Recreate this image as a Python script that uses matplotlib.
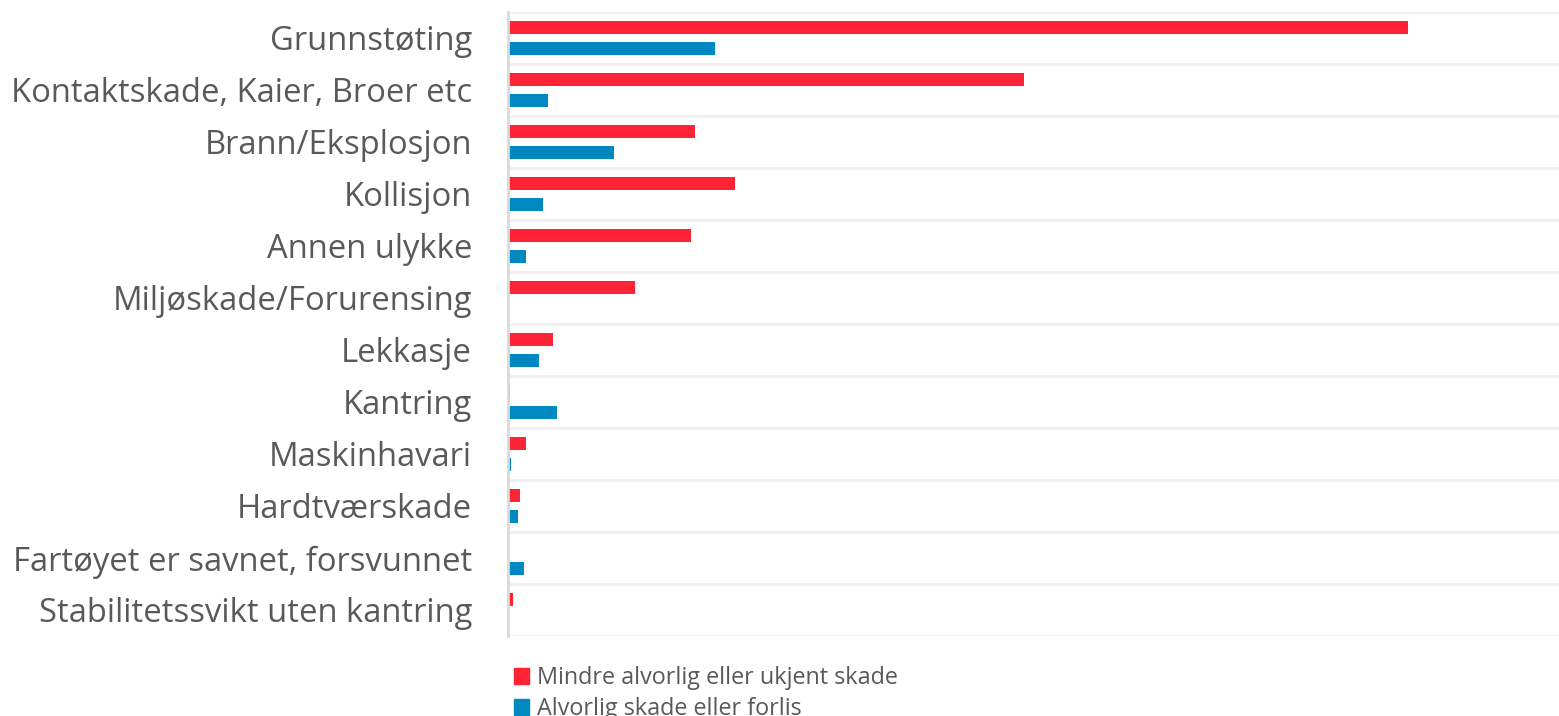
import numpy as np
import matplotlib.pyplot as plt
from matplotlib.patches import Patch

# 数据
categories = ["Grunnstøting", "Kontaktskade, Kaier, Broer etc", "Brann/Eksplosjon",
              "Kollisjon", "Annen ulykke", "Miljøskade/Forurensing", "Lekkasje",
              "Kantring", "Maskinhavari", "Hardtværskade",
              "Fartøyet er savnet, forsvunnet", "Stabilitetssvikt uten kantring"]
mindre = [900, 516, 187, 227, 183, 127, 45, 2, 18, 12, 1, 5]
alvorlig = [207, 40, 106, 35, 18, 0, 31, 49, 3, 10, 16, 1]
legend_labels = ["Mindre alvorlig eller ukjent skade", "Alvorlig skade eller forlis"]

red = '#ff2435'
blue = '#0088c0'
text_color = '#595959'

plt.rcParams['font.family'] = ['Open Sans', 'DejaVu Sans']

fig = plt.figure(figsize=(15.59, 7.16), dpi=100)
ax = fig.add_axes([508 / 1559, 1 - 636 / 716, 1 - 508 / 1559, (636 - 12) / 716])

y = np.arange(len(categories))
ax.barh(y - 0.21, mindre, height=0.25, color=red)
ax.barh(y + 0.21, alvorlig, height=0.25, color=blue)

ax.set_ylim(len(categories) - 0.5, -0.5)
ax.set_xlim(0, 1051)

# 类别之间的分隔线
for b in np.arange(-0.5, len(categories) + 0.5, 1):
    ax.axhline(b, color='#efefef', lw=2, zorder=0)

ax.set_yticks(y)
ax.set_yticklabels(categories, fontsize=23.6, color=text_color)
ax.tick_params(axis='y', length=0, pad=26)
ax.set_xticks([])
for s in ['top', 'right', 'bottom']:
    ax.spines[s].set_visible(False)
ax.spines['left'].set_color('#d9d9d9')
ax.spines['left'].set_linewidth(2)

handles = [Patch(color=red), Patch(color=blue)]
leg = fig.legend(handles, legend_labels, loc='upper left',
                 bbox_to_anchor=(514 / 1559, 1 - 666 / 716), frameon=False,
                 fontsize=16.8, handlelength=0.65, handleheight=0.65,
                 handletextpad=0.35, labelspacing=0.32, borderaxespad=0, borderpad=0)
for t in leg.get_texts():
    t.set_color(text_color)

fig.savefig('out.png', dpi=100)
